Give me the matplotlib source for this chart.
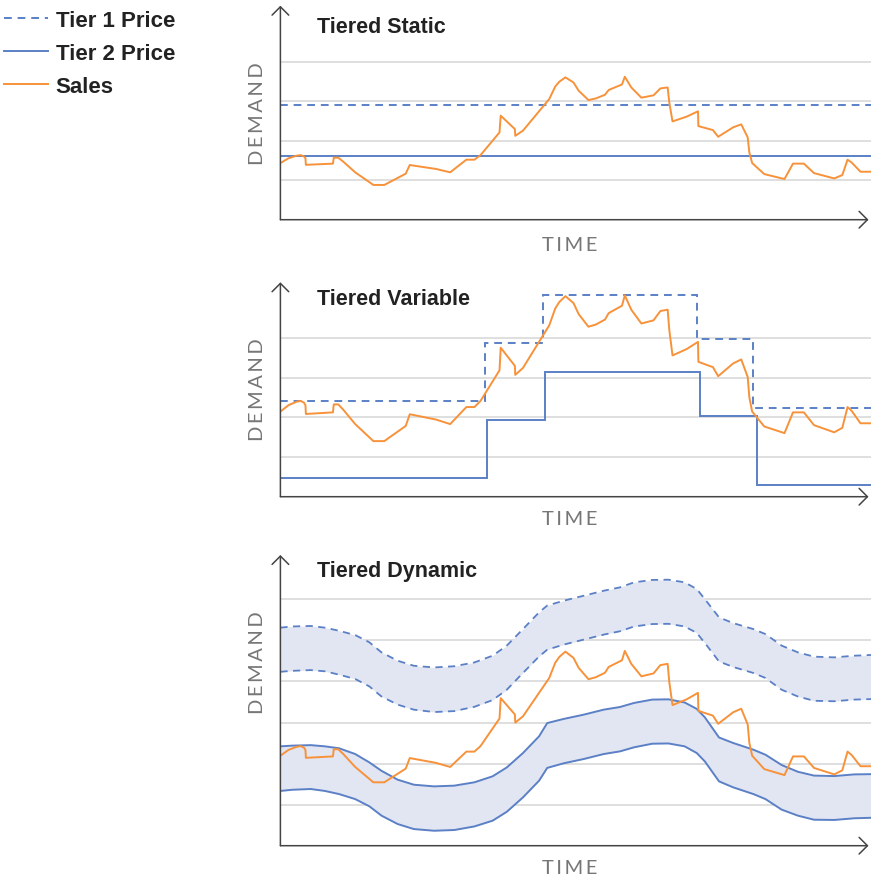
import matplotlib
matplotlib.use("Agg")
import matplotlib.pyplot as plt
import numpy as np

# colours
BLUE = "#5b80c6"
ORANGE = "#f7923a"
BAND = "#e2e6f3"
GRID = "#d9d9d9"
AXIS = "#444444"

# sales trace (same in every panel)
sales_t = [0, 2, 4, 5, 5.8, 6.2, 6.3, 13, 13.2, 14.3, 15.5, 18.5, 23, 25.7, 31, 32,
           38.5, 42, 46, 48, 49.5, 54.2, 54.5, 58, 58.1, 60, 66.5, 68, 69, 70.5,
           72.5, 73.8, 76.2, 78, 80.3, 81.2, 84.5, 85.2, 86.8, 89.3, 92.3, 94, 95.8,
           96.2, 97, 100.5, 103.3, 103.4, 107, 108.3, 112, 114, 115.6, 116, 116.7,
           119.7, 124.7, 126.8, 129.5, 132, 137, 139, 140.3, 141.3, 143.5, 146.1]
sales_v = [28.7, 31.1, 32.4, 32.7, 32.1, 31.1, 27.8, 28.4, 31.4, 31.4, 29.5, 24.0,
           17.6, 17.6, 23.3, 27.7, 25.7, 24.0, 30.4, 30.4, 32.7, 44.2, 52.7, 45.9,
           42.5, 45.1, 61.1, 67.5, 69.9, 72.1, 69.5, 65.3, 60.6, 61.4, 63.3, 65.7,
           68.5, 72.4, 67.0, 61.8, 63.0, 66.5, 67.0, 59.4, 49.8, 52.2, 54.9, 47.4,
           45.4, 42.0, 46.8, 48.3, 41.7, 34.1, 28.7, 23.1, 20.6, 28.4, 28.4, 23.6,
           20.9, 22.6, 30.4, 29.0, 24.3, 24.3]

# tiered static
static_tier1 = 58.2
static_tier2 = 32.1

# tiered variable (step edges and levels)
var_t1_edges = [0, 50.7, 65, 103, 117, 146.1]
var_t1_vals = [32.7, 54.6, 72.6, 55.8, 29.9]
var_t2_edges = [0, 51.2, 65.5, 103.8, 118, 146.1]
var_t2_vals = [3.9, 25.7, 43.5, 27.1, 1.1]

# tiered dynamic bands
dyn_t = [0, 3, 7.5, 11, 14.5, 18.5, 22, 25, 29, 33, 38, 43, 48, 52.5, 56, 60, 64,
         66, 70, 75, 80, 84, 87.5, 92, 96, 100, 103, 105, 108.5, 112, 117, 120,
         124, 128, 132, 137, 142, 146.1]
t1_hi = [82.1, 82.6, 82.8, 82.1, 80.8, 79.0, 76.0, 71.8, 68.3, 66.2, 65.5, 66.0,
         67.6, 70.4, 74.6, 81.5, 88.5, 91.3, 93.3, 95.4, 97.5, 98.9, 101.0, 102.0,
         102.1, 101.0, 98.2, 94.0, 86.4, 84.0, 81.5, 79.4, 74.6, 71.8, 70.0, 69.7,
         70.4, 70.7]
t1_lo = [63.7, 64.1, 64.4, 63.9, 62.5, 60.7, 57.6, 53.4, 50.0, 47.9, 46.9, 47.3,
         49.1, 51.9, 56.2, 63.2, 70.1, 72.9, 75.0, 77.1, 79.2, 80.6, 82.6, 83.6,
         83.7, 82.6, 79.9, 75.7, 68.0, 65.7, 63.2, 61.1, 56.2, 53.4, 51.6, 51.4,
         52.1, 52.3]
t2_hi = [32.6, 32.9, 33.1, 32.6, 31.8, 29.4, 25.9, 22.4, 18.7, 16.6, 15.9, 16.2,
         17.6, 20.1, 23.8, 29.8, 36.8, 42.3, 44.0, 45.8, 47.9, 49.0, 50.7, 52.1,
         52.2, 50.9, 48.2, 44.7, 36.3, 34.0, 31.2, 29.1, 24.8, 22.0, 20.4, 20.2,
         20.9, 21.0]
t2_lo = [14.0, 14.5, 14.8, 14.0, 12.7, 10.6, 7.6, 3.7, 0.2, -1.9, -2.6, -2.3,
         -0.8, 1.6, 5.3, 11.3, 18.3, 23.6, 25.5, 27.3, 29.4, 30.5, 32.2, 33.7,
         33.8, 32.6, 29.8, 26.3, 18.0, 15.5, 12.7, 10.6, 6.2, 3.7, 2.0, 1.9,
         2.6, 2.8]

titles = ["Tiered Static", "Tiered Variable", "Tiered Dynamic"]
ylims = [(0, 108.4), (-3.3, 77.3), (-8.84, 112.4)]
grids = [[20, 40, 60, 80],
         [11.5, 26.6, 41.4, 56.3],
         [8.3, 25.2, 42.4, 59.7, 76.8, 93.9]]

W, H = 871, 878
fig = plt.figure(figsize=(W / 100, H / 100), dpi=100)

# axes boxes in pixels: (top, bottom) from top of figure
boxes = [(6.7, 220.7), (283.3, 497.7), (556.0, 846.7)]
title_base = [33.3, 305.0, 577.3]
demand_y = [113.7, 390.0, 662.8]
time_base = [250.7, 525.0, 874.5]
x0 = 280.4

SP = "\u2009"
light_font = dict(family=["Lato", "DejaVu Sans"], fontsize=14.5, color="#767676")

axes = []
for i, (top, bot) in enumerate(boxes):
    ax = fig.add_axes([x0 / W, 1 - bot / H, (W - x0) / W, (bot - top) / H])
    ax.set_xlim(0, 146.1)
    ax.set_ylim(*ylims[i])
    for sp in ax.spines.values():
        sp.set_visible(False)
    ax.set_xticks([])
    ax.set_yticks([])
    for g in grids[i]:
        ax.axhline(g, color=GRID, lw=1.2, zorder=0)
    # axis arrows
    ax.annotate("", xy=(0, 1), xytext=(0, 0), xycoords="axes fraction",
                arrowprops=dict(arrowstyle="->,head_length=0.3,head_width=0.3",
                                color=AXIS, lw=1.1, mutation_scale=20,
                                shrinkA=0, shrinkB=0), zorder=5)
    ax.annotate("", xy=(0.9958, 0), xytext=(0, 0), xycoords="axes fraction",
                arrowprops=dict(arrowstyle="->,head_length=0.3,head_width=0.3",
                                color=AXIS, lw=1.1, mutation_scale=20,
                                shrinkA=0, shrinkB=0), zorder=5)
    fig.text(316.8 / W, 1 - title_base[i] / H, titles[i], fontsize=15.5,
             fontweight="bold", family="Liberation Sans", color="#222222",
             va="baseline", ha="left")
    fig.text(257.5 / W, 1 - demand_y[i] / H, SP.join("DEMAND"), rotation=90,
             ha="center", va="center", **light_font)
    fig.text(569.5 / W, 1 - time_base[i] / H, SP.join("TIME"),
             ha="center", va="baseline", **light_font)
    axes.append(ax)

dash = (4, 3)

# static
ax = axes[0]
h1 = ax.axhline(static_tier1, color=BLUE, lw=1.4, dashes=dash, zorder=2,
                label="Tier 1 Price")
h2 = ax.axhline(static_tier2, color=BLUE, lw=1.4, zorder=2, label="Tier 2 Price")
h3, = ax.plot(sales_t, sales_v, color=ORANGE, lw=1.4, zorder=3, label="Sales")

# variable
ax = axes[1]
ax.stairs(var_t1_vals, var_t1_edges, baseline=None, color=BLUE, lw=1.4,
          linestyle=(0, dash), zorder=2)
ax.stairs(var_t2_vals, var_t2_edges, baseline=None, color=BLUE, lw=1.4, zorder=2)
ax.plot(sales_t, sales_v, color=ORANGE, lw=1.4, zorder=3)

# dynamic
ax = axes[2]
ax.fill_between(dyn_t, t1_lo, t1_hi, color=BAND, lw=0, zorder=1)
ax.fill_between(dyn_t, t2_lo, t2_hi, color=BAND, lw=0, zorder=1)
ax.plot(dyn_t, t1_hi, color=BLUE, lw=1.3, dashes=dash, zorder=2)
ax.plot(dyn_t, t1_lo, color=BLUE, lw=1.3, dashes=dash, zorder=2)
ax.plot(dyn_t, t2_hi, color=BLUE, lw=1.4, zorder=2)
ax.plot(dyn_t, t2_lo, color=BLUE, lw=1.4, zorder=2)
ax.plot(sales_t, sales_v, color=ORANGE, lw=1.4, zorder=3)

fig.legend(handles=[h1, h2, h3], loc="upper left",
           bbox_to_anchor=(4 / W, 1 - 11 / H), frameon=False, borderpad=0,
           borderaxespad=0, handlelength=2.0, handletextpad=0.32,
           labelspacing=0.53,
           prop=dict(family="Liberation Sans", weight="bold", size=16))
for t in fig.legends[0].get_texts():
    t.set_color("#222222")

fig.savefig("out.png", dpi=100)
